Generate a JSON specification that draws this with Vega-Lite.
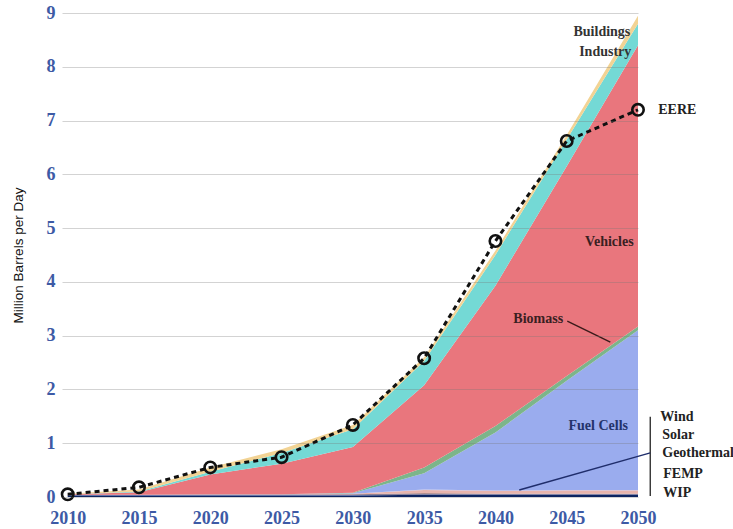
{
  "$schema": "https://vega.github.io/schema/vega-lite/v6.json",
  "width": 576,
  "height": 484,
  "autosize": {"type": "none"},
  "padding": {"left": 62, "top": 13, "right": 95, "bottom": 32},
  "background": "white",
  "config": {"view": {"stroke": null}},
  "resolve": {"scale": {"color": "independent"}},
  "datasets": {
    "areas": [
      {"year": 2010, "source": "WIP", "value": 0.03}, {"year": 2010, "source": "FEMP", "value": 0.005}, {"year": 2010, "source": "Geothermal", "value": 0.005}, {"year": 2010, "source": "Solar", "value": 0}, {"year": 2010, "source": "Wind", "value": 0}, {"year": 2010, "source": "Fuel Cells", "value": 0}, {"year": 2010, "source": "Biomass", "value": 0}, {"year": 2010, "source": "Vehicles", "value": 0.01}, {"year": 2010, "source": "Industry", "value": 0.0}, {"year": 2010, "source": "Buildings", "value": 0.01},
      {"year": 2015, "source": "WIP", "value": 0.03}, {"year": 2015, "source": "FEMP", "value": 0.005}, {"year": 2015, "source": "Geothermal", "value": 0.005}, {"year": 2015, "source": "Solar", "value": 0}, {"year": 2015, "source": "Wind", "value": 0}, {"year": 2015, "source": "Fuel Cells", "value": 0}, {"year": 2015, "source": "Biomass", "value": 0}, {"year": 2015, "source": "Vehicles", "value": 0.05}, {"year": 2015, "source": "Industry", "value": 0.01}, {"year": 2015, "source": "Buildings", "value": 0.04},
      {"year": 2020, "source": "WIP", "value": 0.03}, {"year": 2020, "source": "FEMP", "value": 0.01}, {"year": 2020, "source": "Geothermal", "value": 0.005}, {"year": 2020, "source": "Solar", "value": 0.005}, {"year": 2020, "source": "Wind", "value": 0}, {"year": 2020, "source": "Fuel Cells", "value": 0}, {"year": 2020, "source": "Biomass", "value": 0}, {"year": 2020, "source": "Vehicles", "value": 0.37}, {"year": 2020, "source": "Industry", "value": 0.05}, {"year": 2020, "source": "Buildings", "value": 0.08},
      {"year": 2025, "source": "WIP", "value": 0.03}, {"year": 2025, "source": "FEMP", "value": 0.01}, {"year": 2025, "source": "Geothermal", "value": 0.005}, {"year": 2025, "source": "Solar", "value": 0.005}, {"year": 2025, "source": "Wind", "value": 0}, {"year": 2025, "source": "Fuel Cells", "value": 0}, {"year": 2025, "source": "Biomass", "value": 0}, {"year": 2025, "source": "Vehicles", "value": 0.57}, {"year": 2025, "source": "Industry", "value": 0.2}, {"year": 2025, "source": "Buildings", "value": 0.07},
      {"year": 2030, "source": "WIP", "value": 0.03}, {"year": 2030, "source": "FEMP", "value": 0.01}, {"year": 2030, "source": "Geothermal", "value": 0.01}, {"year": 2030, "source": "Solar", "value": 0.01}, {"year": 2030, "source": "Wind", "value": 0}, {"year": 2030, "source": "Fuel Cells", "value": 0.01}, {"year": 2030, "source": "Biomass", "value": 0.01}, {"year": 2030, "source": "Vehicles", "value": 0.85}, {"year": 2030, "source": "Industry", "value": 0.33}, {"year": 2030, "source": "Buildings", "value": 0.08},
      {"year": 2035, "source": "WIP", "value": 0.04}, {"year": 2035, "source": "FEMP", "value": 0.01}, {"year": 2035, "source": "Geothermal", "value": 0.02}, {"year": 2035, "source": "Solar", "value": 0.06}, {"year": 2035, "source": "Wind", "value": 0.01}, {"year": 2035, "source": "Fuel Cells", "value": 0.3}, {"year": 2035, "source": "Biomass", "value": 0.11}, {"year": 2035, "source": "Vehicles", "value": 1.53}, {"year": 2035, "source": "Industry", "value": 0.45}, {"year": 2035, "source": "Buildings", "value": 0.07},
      {"year": 2040, "source": "WIP", "value": 0.04}, {"year": 2040, "source": "FEMP", "value": 0.01}, {"year": 2040, "source": "Geothermal", "value": 0.01}, {"year": 2040, "source": "Solar", "value": 0.05}, {"year": 2040, "source": "Wind", "value": 0.01}, {"year": 2040, "source": "Fuel Cells", "value": 1.08}, {"year": 2040, "source": "Biomass", "value": 0.12}, {"year": 2040, "source": "Vehicles", "value": 2.61}, {"year": 2040, "source": "Industry", "value": 0.57}, {"year": 2040, "source": "Buildings", "value": 0.08},
      {"year": 2045, "source": "WIP", "value": 0.04}, {"year": 2045, "source": "FEMP", "value": 0.01}, {"year": 2045, "source": "Geothermal", "value": 0.01}, {"year": 2045, "source": "Solar", "value": 0.06}, {"year": 2045, "source": "Wind", "value": 0.01}, {"year": 2045, "source": "Fuel Cells", "value": 2.03}, {"year": 2045, "source": "Biomass", "value": 0.09}, {"year": 2045, "source": "Vehicles", "value": 3.9}, {"year": 2045, "source": "Industry", "value": 0.5}, {"year": 2045, "source": "Buildings", "value": 0.08},
      {"year": 2050, "source": "WIP", "value": 0.04}, {"year": 2050, "source": "FEMP", "value": 0.01}, {"year": 2050, "source": "Geothermal", "value": 0.01}, {"year": 2050, "source": "Solar", "value": 0.06}, {"year": 2050, "source": "Wind", "value": 0.01}, {"year": 2050, "source": "Fuel Cells", "value": 2.97}, {"year": 2050, "source": "Biomass", "value": 0.07}, {"year": 2050, "source": "Vehicles", "value": 5.23}, {"year": 2050, "source": "Industry", "value": 0.4}, {"year": 2050, "source": "Buildings", "value": 0.15}
    ],
    "eere": [
      {"year": 2010, "eere": 0.05}, {"year": 2015, "eere": 0.18}, {"year": 2020, "eere": 0.55}, {"year": 2025, "eere": 0.74}, {"year": 2030, "eere": 1.34}, {"year": 2035, "eere": 2.58}, {"year": 2040, "eere": 4.76}, {"year": 2045, "eere": 6.62}, {"year": 2050, "eere": 7.2}
    ],
    "labelsCenter": [
      {"text": "Vehicles", "x": 2047.99, "y": 4.74},
      {"text": "Biomass", "x": 2043.0, "y": 3.31},
      {"text": "Fuel Cells", "x": 2047.21, "y": 1.32}
    ],
    "labelsRight": [
      {"text": "Buildings", "x": 2049.46, "y": 8.65},
      {"text": "Industry", "x": 2049.53, "y": 8.27}
    ],
    "labelsLeft": [
      {"text": "EERE", "x": 2051.42, "y": 7.2},
      {"text": "Wind", "x": 2051.56, "y": 1.49},
      {"text": "Solar", "x": 2051.7, "y": 1.15},
      {"text": "Geothermal", "x": 2051.7, "y": 0.82},
      {"text": "FEMP", "x": 2051.77, "y": 0.43},
      {"text": "WIP", "x": 2051.77, "y": 0.07}
    ],
    "leaders": [
      {"line": "biomass", "x1": 2045.04, "y1": 3.27, "x2": 2048.06, "y2": 2.88},
      {"line": "bracket", "x1": 2050.86, "y1": 1.49, "x2": 2050.86, "y2": 0.02},
      {"line": "pointer", "x1": 2050.86, "y1": 0.82, "x2": 2041.67, "y2": 0.13}
    ]
  },
  "layer": [
    {
      "data": {"name": "areas"},
      "transform": [{"calculate": "indexof(['WIP','FEMP','Geothermal','Solar','Wind','Fuel Cells','Biomass','Vehicles','Industry','Buildings'], datum.source)", "as": "rank"}],
      "mark": {"type": "area", "interpolate": "linear"},
      "encoding": {
        "x": {"field": "year", "type": "quantitative", "scale": {"domain": [2009.6, 2050], "nice": false, "zero": false},
          "axis": {"values": [2010, 2015, 2020, 2025, 2030, 2035, 2040, 2045, 2050], "format": "d", "grid": false, "domain": false, "ticks": false, "labelFont": "Liberation Serif", "labelFontSize": 18, "labelFontWeight": "bold", "labelColor": "#3d5aa5", "labelPadding": 12, "title": null, "labelFlush": false}},
        "y": {"field": "value", "type": "quantitative", "stack": "zero", "scale": {"domain": [0, 9], "nice": false},
          "axis": {"values": [0, 1, 2, 3, 4, 5, 6, 7, 8, 9], "format": "d", "grid": true, "gridColor": "#777777", "gridOpacity": 0.32, "domain": false, "ticks": false, "labelFont": "Liberation Serif", "labelFontSize": 18, "labelFontWeight": "bold", "labelColor": "#3d5aa5", "labelPadding": 7, "title": "Million Barrels per Day", "titleFont": "Liberation Sans", "titleFontSize": 13.5, "titleFontWeight": "normal", "titleColor": "#111111", "titlePadding": 21, "zindex": 1}},
        "color": {"field": "source", "type": "nominal", "legend": null,
          "scale": {"domain": ["WIP", "FEMP", "Geothermal", "Solar", "Wind", "Fuel Cells", "Biomass", "Vehicles", "Industry", "Buildings"],
                    "range": ["#0c2461", "#4a5fa8", "#7a5a60", "#e8b4ac", "#c8b6d8", "#9aacee", "#7cb58a", "#e9767d", "#74d9d5", "#f2d394"]}},
        "order": {"field": "rank", "type": "quantitative"}
      }
    },
    {
      "data": {"name": "eere"},
      "mark": {"type": "line", "color": "#111111", "strokeWidth": 3, "strokeDash": [5, 4]},
      "encoding": {
        "x": {"field": "year", "type": "quantitative", "scale": {"domain": [2009.6, 2050], "nice": false, "zero": false}},
        "y": {"field": "eere", "type": "quantitative", "scale": {"domain": [0, 9], "nice": false}}
      }
    },
    {
      "data": {"name": "eere"},
      "mark": {"type": "point", "shape": "circle", "filled": false, "stroke": "#111111", "strokeWidth": 2.6, "size": 130, "opacity": 1},
      "encoding": {
        "x": {"field": "year", "type": "quantitative", "scale": {"domain": [2009.6, 2050], "nice": false, "zero": false}},
        "y": {"field": "eere", "type": "quantitative", "scale": {"domain": [0, 9], "nice": false}}
      }
    },
    {
      "data": {"name": "leaders"},
      "mark": {"type": "rule", "strokeWidth": 1.4},
      "encoding": {
        "x": {"field": "x1", "type": "quantitative", "scale": {"domain": [2009.6, 2050], "nice": false, "zero": false}},
        "y": {"field": "y1", "type": "quantitative", "scale": {"domain": [0, 9], "nice": false}},
        "x2": {"field": "x2"},
        "y2": {"field": "y2"},
        "color": {"field": "line", "type": "nominal", "legend": null, "scale": {"domain": ["biomass", "bracket", "pointer"], "range": ["#3a1a1a", "#333333", "#1f2d6b"]}}
      }
    },
    {
      "data": {"name": "labelsCenter"},
      "mark": {"type": "text", "font": "Liberation Serif", "fontWeight": "bold", "fontSize": 14, "align": "center", "baseline": "middle"},
      "encoding": {
        "x": {"field": "x", "type": "quantitative", "scale": {"domain": [2009.6, 2050], "nice": false, "zero": false}},
        "y": {"field": "y", "type": "quantitative", "scale": {"domain": [0, 9], "nice": false}},
        "text": {"field": "text"},
        "color": {"condition": {"test": "datum.text === 'Fuel Cells'", "value": "#24336b"}, "value": "#3a1f22"}
      }
    },
    {
      "data": {"name": "labelsRight"},
      "mark": {"type": "text", "font": "Liberation Serif", "fontWeight": "bold", "fontSize": 14, "align": "right", "baseline": "middle", "color": "#333333"},
      "encoding": {
        "x": {"field": "x", "type": "quantitative", "scale": {"domain": [2009.6, 2050], "nice": false, "zero": false}},
        "y": {"field": "y", "type": "quantitative", "scale": {"domain": [0, 9], "nice": false}},
        "text": {"field": "text"}
      }
    },
    {
      "data": {"name": "labelsLeft"},
      "mark": {"type": "text", "font": "Liberation Serif", "fontWeight": "bold", "fontSize": 14, "align": "left", "baseline": "middle", "color": "#222222"},
      "encoding": {
        "x": {"field": "x", "type": "quantitative", "scale": {"domain": [2009.6, 2050], "nice": false, "zero": false}},
        "y": {"field": "y", "type": "quantitative", "scale": {"domain": [0, 9], "nice": false}},
        "text": {"field": "text"}
      }
    }
  ]
}
